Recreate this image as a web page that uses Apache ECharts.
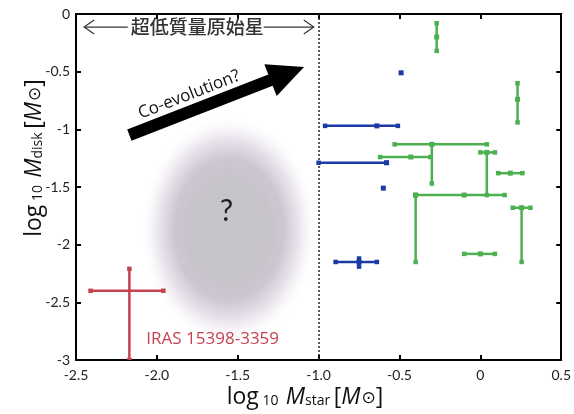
<!DOCTYPE html>
<html>
<head>
<meta charset="utf-8">
<script src="https://cdn.jsdelivr.net/npm/echarts@6/dist/echarts.min.js"></script>
<style>
html,body{margin:0;padding:0;background:#fff;}
#chart{width:574px;height:414px;}
</style>
</head>
<body>
<div id="chart"></div>
<script>
// ---- Data: [x, y, xLow, xHigh, yLow, yHigh] (log10 Mstar, log10 Mdisk) ----
const xTickValues = [-2.5, -2.0, -1.5, -1.0, -0.5, 0, 0.5];
const xTickLabels = ['-2.5', '-2.0', '-1.5', '-1.0', '-0.5', '0', '0.5'];
const yTickValues = [0, -0.5, -1, -1.5, -2, -2.5, -3];
const yTickLabels = ['0', '-0.5', '-1', '-1.5', '-2', '-2.5', '-3'];

const greenPoints = [
  [-0.27, -0.20, null, null, -0.32, -0.08],
  [0.23, -0.74, null, null, -0.94, -0.60],
  [-0.30, -1.13, -0.53, 0.04, -1.47, -1.13],
  [-0.43, -1.24, -0.62, -0.31, null, null],
  [0.04, -1.20, 0.00, 0.09, -1.57, -1.20],
  [0.185, -1.38, 0.11, 0.26, null, null],
  [-0.10, -1.57, -0.40, 0.15, null, null],
  [-0.40, -1.57, null, null, -2.15, -1.57],
  [0.255, -1.68, 0.20, 0.31, -2.15, -1.68],
  [0.0, -2.08, -0.10, 0.09, null, null]
];
const bluePoints = [
  [-0.49, -0.51, null, null, null, null],
  [-0.64, -0.97, -0.96, -0.51, null, null],
  [-0.58, -1.29, -1.00, -0.58, null, null],
  [-0.60, -1.51, null, null, null, null],
  [-0.75, -2.15, -0.895, -0.64, -2.19, -2.12]
];
const irasPoint = [
  [-2.17, -2.40, -2.41, -1.96, -3.0, -2.21]
];
const boundaryX = -1.0;

// ---- Annotation anchors (data coordinates) ----
const topLabelY = -0.113;
const arrowTail = [-2.17, -1.05];
const arrowTip = [-1.09, -0.46];

const GREEN = '#4caf50';
const BLUE = '#1b3aa6';
const RED = '#c4434f';

const chart = echarts.init(document.getElementById('chart'), null, {renderer: 'canvas'});

function missing(v) { return v == null || isNaN(v); }

function errRender(color, lw, marker) {
  return function (params, api) {
    const x = api.value(0), y = api.value(1);
    const xlo = api.value(2), xhi = api.value(3), ylo = api.value(4), yhi = api.value(5);
    const children = [];
    const dot = (p, s) => ({type: 'rect', shape: {x: p[0] - s / 2, y: p[1] - s / 2, width: s, height: s},
      style: {fill: color}});
    if (!missing(xlo)) {
      const a = api.coord([xlo, y]), b = api.coord([xhi, y]);
      children.push({type: 'line', shape: {x1: a[0], y1: a[1], x2: b[0], y2: b[1]},
        style: {stroke: color, lineWidth: lw}});
      children.push(dot(a, lw + 2), dot(b, lw + 2));
    }
    if (!missing(ylo)) {
      const a = api.coord([x, ylo]), b = api.coord([x, yhi]);
      children.push({type: 'line', shape: {x1: a[0], y1: a[1], x2: b[0], y2: b[1]},
        style: {stroke: color, lineWidth: lw}});
      children.push(dot(a, lw + 2), dot(b, lw + 2));
    }
    children.push(dot(api.coord([x, y]), marker));
    return {type: 'group', children: children};
  };
}

function errSeries(name, data, color, lw, marker) {
  return {
    type: 'custom', name: name, data: data, clip: true, z: 5,
    encode: {x: [0, 2, 3], y: [1, 4, 5]},
    renderItem: errRender(color, lw, marker)
  };
}

function tickLabel(values, labels) {
  return function (v) {
    for (let i = 0; i < values.length; i++) if (Math.abs(values[i] - v) < 1e-9) return labels[i];
    return '';
  };
}

const axisCommon = {
  type: 'value',
  axisLine: {show: true, onZero: false, lineStyle: {color: '#000', width: 2}},
  axisTick: {show: true, inside: true, length: 5, lineStyle: {color: '#000', width: 2}},
  splitLine: {show: false}
};

chart.setOption({
  animation: false,
  backgroundColor: '#fff',
  grid: {left: 76, right: 10, top: 14, bottom: 54, containLabel: false},
  xAxis: [
    Object.assign({}, axisCommon, {min: -2.5, max: 0.5, interval: 0.5, position: 'bottom',
      axisLabel: {formatter: tickLabel(xTickValues, xTickLabels), color: '#222', fontSize: 14,
        fontFamily: 'Lato', margin: 8}}),
    Object.assign({}, axisCommon, {min: -2.5, max: 0.5, interval: 0.5, position: 'top',
      axisLabel: {show: false}})
  ],
  yAxis: [
    Object.assign({}, axisCommon, {min: -3, max: 0, interval: 0.5, position: 'left',
      axisLabel: {formatter: tickLabel(yTickValues, yTickLabels), color: '#222', fontSize: 14,
        fontFamily: 'Lato', margin: 6}}),
    Object.assign({}, axisCommon, {min: -3, max: 0, interval: 0.5, position: 'right',
      axisLabel: {show: false}})
  ],
  series: [
    Object.assign(errSeries('IRAS 15398-3359', irasPoint, RED, 2.5, 0), {
      markLine: {
        silent: true, symbol: 'none', label: {show: false},
        lineStyle: {color: '#222', width: 1.5, type: [2, 2]},
        data: [{xAxis: boundaryX}]
      }
    }),
    errSeries('green', greenPoints, GREEN, 2.5, 5),
    errSeries('blue', bluePoints, BLUE, 2.5, 5)
  ]
});

function px(p) { return chart.convertToPixel({gridIndex: 0}, p); }

function arrowPoly(t, h, sw, hl, hw) {
  const dx = h[0] - t[0], dy = h[1] - t[1], L = Math.hypot(dx, dy);
  const ux = dx / L, uy = dy / L, nx = -uy, ny = ux;
  const b = [h[0] - ux * hl, h[1] - uy * hl];
  return [
    [t[0] + nx * sw / 2, t[1] + ny * sw / 2],
    [b[0] + nx * sw / 2, b[1] + ny * sw / 2],
    [b[0] + nx * hw, b[1] + ny * hw],
    h,
    [b[0] - nx * hw, b[1] - ny * hw],
    [b[0] - nx * sw / 2, b[1] - ny * sw / 2],
    [t[0] - nx * sw / 2, t[1] - ny * sw / 2]
  ];
}

const blobC = px([-1.555, -1.87]);
const qPos = px([-1.57, -1.71]);
const tail = px(arrowTail), tip = px(arrowTip);
const coTxt = px([-1.80, -0.70]);
const iras = px([-2.065, -2.82]);
const topC = px([-1.75, topLabelY]);
const lA = px([-2.45, topLabelY]), lB = px([-2.18, topLabelY]);
const rA = px([-1.34, topLabelY]), rB = px([-1.03, topLabelY]);

const ang = Math.atan2(-(tip[1] - tail[1]), tip[0] - tail[0]);

const richName = {
  a: {fontSize: 23, fontFamily: 'Open Sans', fill: '#111'},
  s: {fontSize: 14, fontFamily: 'Open Sans', fill: '#111', padding: [8, 0, 0, 0]},
  m: {fontSize: 23, fontFamily: 'Open Sans', fontStyle: 'italic', fill: '#111'},
  o: {fontSize: 17, fontFamily: 'DejaVu Sans', fill: '#111', padding: [3, 0, 0, 1]}
};

chart.setOption({
  graphic: [
    {
      type: 'circle', z: 0, x: blobC[0], y: blobC[1], scaleX: 1, scaleY: 1.3,
      shape: {cx: 0, cy: 0, r: 88},
      style: {fill: {type: 'radial', x: 0.5, y: 0.5, r: 0.5, colorStops: [
        {offset: 0, color: 'rgba(200,198,203,1)'},
        {offset: 0.4, color: 'rgba(198,195,201,1)'},
        {offset: 0.62, color: 'rgba(196,189,201,0.85)'},
        {offset: 0.78, color: 'rgba(205,195,212,0.5)'},
        {offset: 0.9, color: 'rgba(225,215,230,0.2)'},
        {offset: 1, color: 'rgba(255,255,255,0)'}
      ]}}
    },
    {type: 'text', z: 10, x: qPos[0], y: qPos[1],
      style: {text: '?', fontSize: 30, fontFamily: 'Lato', fill: '#222', align: 'center', verticalAlign: 'middle'}},
    {type: 'polygon', z: 10, shape: {points: arrowPoly(tail, tip, 12, 36, 17)}, style: {fill: '#000'}},
    {type: 'text', z: 10, x: coTxt[0], y: coTxt[1], rotation: ang,
      style: {text: 'Co-evolution?', fontSize: 17, fontFamily: 'Open Sans', fill: '#111',
        align: 'center', verticalAlign: 'middle'}},
    {type: 'text', z: 10, x: iras[0], y: iras[1],
      style: {text: 'IRAS 15398-3359', fontSize: 17, fontFamily: 'Open Sans', fill: RED,
        align: 'left', verticalAlign: 'middle'}},
    {type: 'text', z: 10, x: topC[0], y: topC[1],
      style: {text: '超低質量原始星', fontSize: 19, fontFamily: 'Noto Sans CJK JP', fontWeight: 500, fill: '#333',
        align: 'center', verticalAlign: 'middle'}},
    {type: 'line', z: 10, shape: {x1: lA[0], y1: lA[1], x2: lB[0], y2: lB[1]}, style: {stroke: '#333', lineWidth: 1.2}},
    {type: 'polyline', z: 10, shape: {points: [[lA[0] + 10, lA[1] - 7], lA, [lA[0] + 10, lA[1] + 7]]},
      style: {stroke: '#333', lineWidth: 1.2, fill: null}},
    {type: 'line', z: 10, shape: {x1: rA[0], y1: rA[1], x2: rB[0], y2: rB[1]}, style: {stroke: '#333', lineWidth: 1.2}},
    {type: 'polyline', z: 10, shape: {points: [[rB[0] - 10, rB[1] - 7], rB, [rB[0] - 10, rB[1] + 7]]},
      style: {stroke: '#333', lineWidth: 1.2, fill: null}},
    {type: 'text', z: 10, x: 305, y: 397,
      style: {text: '{a|log}{s| 10  }{m|M}{s|star }{a|[}{m|M}{o|⊙}{a|]}', align: 'center', verticalAlign: 'middle',
        rich: richName}},
    {type: 'text', z: 10, x: 34, y: 158, rotation: Math.PI / 2,
      style: {text: '{a|log}{s| 10  }{m|M}{s|disk }{a|[}{m|M}{o|⊙}{a|]}', align: 'center', verticalAlign: 'middle',
        rich: richName}}
  ]
});
</script>
</body>
</html>
